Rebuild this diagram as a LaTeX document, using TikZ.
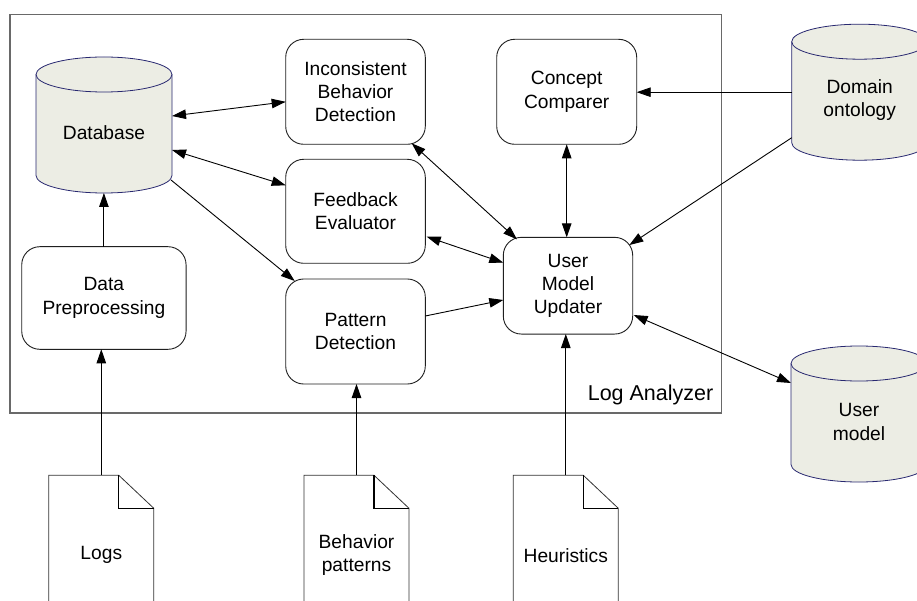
\documentclass[tikz,border=0pt]{standalone}
\usepackage{fontspec}
\setmainfont{Liberation Sans}
\usetikzlibrary{arrows.meta,calc}
\definecolor{cylfill}{RGB}{236,237,228}
\definecolor{cylline}{RGB}{40,40,112}
\definecolor{framegray}{RGB}{105,105,105}
\tikzset{
  base/.style={font=\fontsize{19.2}{23.3}\selectfont, align=center, inner sep=0pt, outer sep=0pt},
  proc/.style={base, draw=black!88, line width=0.9pt, rounded corners=18pt},
  conn/.style={draw=black, line width=0.9pt},
  oneway/.style={conn, -{Triangle[length=14pt,width=9.5pt]}},
  twoway/.style={conn, {Triangle[length=14pt,width=9.5pt]}-{Triangle[length=14pt,width=9.5pt]}},
}
\newcommand\drawcyl[4]{%
  \filldraw[fill=cylfill, draw=cylline, line width=0.8pt]
    (#2-68,#3-50.5) -- (#2-68,#3+50.5)
    arc[start angle=180,end angle=360,x radius=68pt,y radius=17.5pt]
    -- (#2+68,#3-50.5)
    arc[start angle=0,end angle=180,x radius=68pt,y radius=17.5pt] -- cycle;
  \draw[cylline, line width=0.8pt] (#2-68,#3-50.5)
    arc[start angle=180,end angle=360,x radius=68pt,y radius=17.5pt];
  \node[minimum width=136pt, minimum height=136pt, inner sep=0pt, outer sep=0pt] (#1) at (#2,#3) {};
  \node[base] (#1-t) at (#2,#3+8) {#4};
}
\newcommand\drawdoc[4]{%
  \node[base, minimum width=105pt, minimum height=160pt, anchor=north] (#1) at (#2,#3) {#4};
  \draw[black!80, line width=0.8pt] (#1.south west) -- (#1.north west)
    -- ([xshift=-35pt]#1.north east) -- ([yshift=-33pt]#1.north east) -- (#1.south east);
  \draw[black, line width=1.3pt] ([xshift=-35pt]#1.north east) |- ([yshift=-33pt]#1.north east);
}
\begin{document}
\begin{tikzpicture}[x=1pt,y=-1pt]
\clip (0,0) rectangle (917,601);
\fill[white] (0,0) rectangle (917,601);
% frame
\draw[framegray, line width=1.2pt] (10,14.5) rectangle (721.7,413);
\node[font=\fontsize{21.5}{24}\selectfont, anchor=base east, inner sep=0pt] (la) at (713.5,400.7) {Log Analyzer};
% processes
\node[proc, minimum width=139.6pt, minimum height=105pt] (ibd) at (355.5,91.8) {Inconsistent\\Behavior\\Detection};
\node[proc, minimum width=140pt, minimum height=105pt] (cc) at (566.7,91.8) {Concept\\Comparer};
\node[proc, minimum width=139.6pt, minimum height=104pt] (fe) at (355.5,211.3) {Feedback\\Evaluator};
\node[proc, minimum width=139.6pt, minimum height=105pt] (pd) at (355.5,331.5) {Pattern\\Detection};
\node[proc, minimum width=129.4pt, minimum height=96.7pt] (umu) at (568,285.7) {User\\Model\\Updater};
\node[proc, minimum width=164.3pt, minimum height=102.6pt] (dp) at (103.9,298) {Data\\Preprocessing};
% stores
\drawcyl{db}{104}{125}{Database}
\drawcyl{dom}{859.7}{92.2}{Domain\\ontology}
\drawcyl{um}{859}{414}{User\\model}
% documents
\drawdoc{logs}{101.3}{475.3}{Logs}
\drawdoc{bp}{356.5}{475.3}{Behavior\\patterns}
\drawdoc{heur}{565.8}{475.3}{Heuristics}
% connectors
\draw[oneway] (logs.north) -- (logs.north |- dp.south);
\draw[oneway] (bp.north) -- (bp.north |- pd.south);
\draw[oneway] (heur.north) -- (heur.north |- umu.south);
\draw[oneway] (dp.north) -- (dp.north |- db.south);
\draw[twoway] ([yshift=9pt]db.east) -- ([yshift=-10pt]ibd.west);
\draw[twoway] ([yshift=-25pt]db.east) -- ([yshift=26pt]fe.west);
\draw[oneway] ([xshift=-1pt,yshift=-55pt]db.east) -- ([xshift=9pt,yshift=-2pt]pd.north west);
\draw[twoway] ([xshift=-13.6pt,yshift=1pt]ibd.south east) -- ([xshift=13.7pt,yshift=-2pt]umu.north west);
\draw[twoway] (cc.south) -- (cc.south |- umu.north);
\draw[twoway] ([xshift=1.4pt,yshift=-25.4pt]fe.east) -- ([yshift=23pt]umu.west);
\draw[oneway] ([yshift=15.5pt]pd.east) -- ([yshift=-14.3pt]umu.west);
\draw[oneway] ([yshift=-45.5pt]dom.west) -- ([xshift=-3.4pt,yshift=-7.7pt]umu.north east);
\draw[twoway] ([xshift=1pt,yshift=-29.3pt]umu.east) -- ([yshift=31pt]um.west);
\draw[oneway] (dom.west) -- (dom.west -| cc.east);
\end{tikzpicture}
\end{document}
